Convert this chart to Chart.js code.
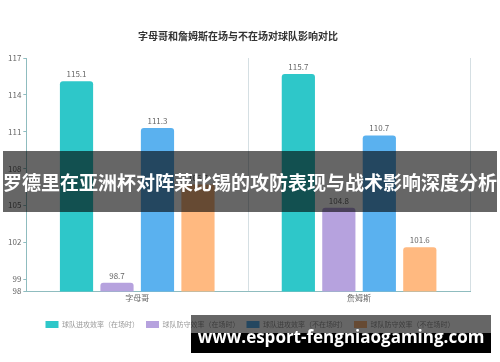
<!DOCTYPE html>
<html>
<head>
<meta charset="utf-8">
<script src="https://cdn.jsdelivr.net/npm/chart.js@4.4.1/dist/chart.umd.min.js"></script>
<style>
    html, body { margin: 0; padding: 0; background: #fff; }
    #wrap { position: relative; width: 500px; height: 362px; overflow: hidden; }
    #banner {
        position: absolute; left: 3px; top: 151px; width: 494px; height: 61px;
        background: rgba(0,0,0,0.6); color: #fff;
        font-family: "Noto Sans CJK SC", sans-serif; font-weight: bold; font-size: 19px;
        line-height: 61px; text-align: center; white-space: nowrap;
    }
    #mark-top {
        position: absolute; left: 191px; top: 315px; width: 300px; height: 18px;
        background: rgba(0,0,0,0.6);
    }
    #mark-bottom {
        position: absolute; left: 191px; top: 333px; width: 300px; height: 20px;
        background: #000;
    }
    #mark-text {
        position: absolute; left: 191px; top: 324px; width: 300px; height: 26px;
        color: #fff; font-family: "Open Sans", sans-serif; font-weight: bold; font-size: 17px;
        line-height: 26px; text-align: center; white-space: nowrap;
    }
</style>
</head>
<body>
<div id="wrap">
    <canvas id="chart" width="500" height="362"></canvas>
    <div id="banner">罗德里在亚洲杯对阵莱比锡的攻防表现与战术影响深度分析</div>
    <div id="mark-top"></div>
    <div id="mark-bottom"></div>
    <div id="mark-text">www.esport-fengniaogaming.com</div>
</div>
<script>
// ==================== DATOS ====================
const jugadores = ['字母哥', '詹姆斯'];
const ataqueEnCancha = [115.1, 115.7];
const defensaEnCancha = [98.7, 104.8];
const ataqueFuera = [111.3, 110.7];
const defensaFuera = [106.7, 101.6];
const ticksY = [98, 99, 102, 105, 108, 111, 114, 117];

const colores = ['#2ec7c9', '#b6a2de', '#5ab1ef', '#ffb980'];
const FUENTE = '"Noto Sans CJK SC", "Noto Sans", sans-serif';

// Etiquetas de valor encima de cada barra
const etiquetasValor = {
    id: 'etiquetasValor',
    afterDatasetsDraw(chart) {
        const ctx = chart.ctx;
        ctx.save();
        ctx.font = '8px ' + FUENTE;
        ctx.fillStyle = '#666';
        ctx.textAlign = 'center';
        ctx.textBaseline = 'bottom';
        chart.data.datasets.forEach((ds, i) => {
            const meta = chart.getDatasetMeta(i);
            meta.data.forEach((bar, j) => {
                ctx.fillText(ds.data[j].toFixed(1), bar.x, bar.y - 3);
            });
        });
        ctx.restore();
    }
};

// Centrar la leyenda en el canvas completo (no solo dentro del padding)
const moverLeyenda = {
    id: 'moverLeyenda',
    afterLayout(chart) {
        if (chart.legend) {
            chart.legend.left += 12;
            chart.legend.right += 12;
        }
    }
};

function serie(label, data, color) {
    return {
        label: label,
        data: data,
        backgroundColor: color,
        borderRadius: { topLeft: 3, topRight: 3 },
        borderSkipped: 'bottom',
        categoryPercentage: 0.73,
        barPercentage: 0.82
    };
}

new Chart(document.getElementById('chart'), {
    type: 'bar',
    data: {
        labels: jugadores,
        datasets: [
            serie('球队进攻效率（在场时）', ataqueEnCancha, colores[0]),
            serie('球队防守效率（在场时）', defensaEnCancha, colores[1]),
            serie('球队进攻效率（不在场时）', ataqueFuera, colores[2]),
            serie('球队防守效率（不在场时）', defensaFuera, colores[3])
        ]
    },
    options: {
        responsive: false,
        animation: false,
        layout: { padding: { top: 30, left: 6, right: 30, bottom: 24 } },
        plugins: {
            title: {
                display: true,
                text: '字母哥和詹姆斯在场与不在场对球队影响对比',
                color: '#333',
                font: { family: FUENTE, size: 10, weight: 'bold' },
                padding: { top: 0, bottom: 16 }
            },
            legend: {
                position: 'bottom',
                labels: {
                    boxWidth: 13,
                    boxHeight: 7,
                    padding: 7,
                    color: '#999',
                    font: { family: FUENTE, size: 7 }
                }
            },
            tooltip: { enabled: false }
        },
        scales: {
            x: {
                grid: { display: true, color: '#d5dfe3', drawTicks: false },
                border: { color: '#8fbcbf' },
                ticks: { color: '#666', font: { family: FUENTE, size: 8 }, padding: 2 },
                afterFit: escala => { escala.height += 9; }
            },
            y: {
                min: 98,
                max: 117,
                afterBuildTicks: axis => { axis.ticks = ticksY.map(v => ({ value: v })); },
                grid: { drawOnChartArea: false, drawTicks: true, tickLength: 3, color: '#8fbcbf' },
                border: { color: '#8fbcbf' },
                ticks: { color: '#666', font: { family: FUENTE, size: 8 }, padding: 2 }
            }
        }
    },
    plugins: [etiquetasValor, moverLeyenda]
});
</script>
</body>
</html>
